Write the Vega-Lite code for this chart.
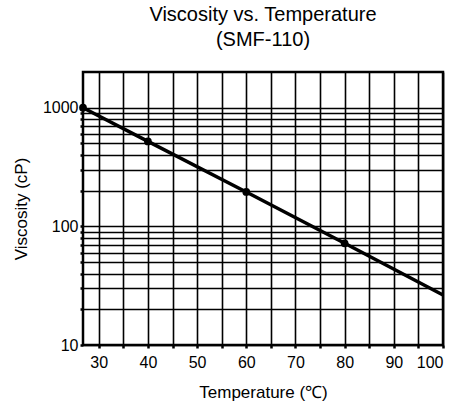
{
  "$schema": "https://vega.github.io/schema/vega-lite/v6.json",
  "autosize": {"type": "none"},
  "width": 360,
  "height": 273,
  "padding": {"left": 83, "top": 72, "right": 27, "bottom": 62},
  "background": "white",
  "title": {
    "text": ["Viscosity vs. Temperature", "(SMF-110)"],
    "font": "Liberation Sans",
    "fontSize": 20,
    "fontWeight": "normal",
    "color": "black",
    "anchor": "middle",
    "lineHeight": 25,
    "offset": 22
  },
  "config": {
    "view": {"stroke": "black", "strokeWidth": 2.5},
    "axis": {
      "labelFont": "Liberation Sans",
      "titleFont": "Liberation Sans",
      "labelFontSize": 16,
      "titleFontSize": 17,
      "titleFontWeight": "normal",
      "labelColor": "black",
      "titleColor": "black",
      "gridColor": "black",
      "gridOpacity": 1,
      "gridWidth": 1.6,
      "tickColor": "black",
      "tickWidth": 2.5,
      "tickSize": 3,
      "domain": false,
      "labelOverlap": false
    }
  },
  "data": {
    "values": [
      {"t": 26.8, "v": 1000},
      {"t": 40, "v": 520},
      {"t": 60, "v": 195},
      {"t": 80, "v": 72},
      {"t": 100, "v": 26.4}
    ]
  },
  "encoding": {
    "x": {
      "field": "t",
      "type": "quantitative",
      "scale": {"domain": [26.8, 100], "nice": false, "zero": false},
      "axis": {
        "title": "Temperature (℃)",
        "values": [30, 35, 40, 45, 50, 55, 60, 65, 70, 75, 80, 85, 90, 95, 100],
        "labelExpr": "datum.value % 10 == 0 ? datum.label : ''",
        "labelPadding": 6,
        "titlePadding": 14
      }
    },
    "y": {
      "field": "v",
      "type": "quantitative",
      "scale": {"type": "log", "domain": [10, 2000], "nice": false},
      "axis": {
        "title": "Viscosity (cP)",
        "format": "d",
        "values": [10, 20, 30, 40, 50, 60, 70, 80, 90, 100, 200, 300, 400, 500, 600, 700, 800, 900, 1000],
        "labelExpr": "(datum.value == 10 || datum.value == 100 || datum.value == 1000) ? datum.label : ''",
        "labelPadding": 2,
        "titlePadding": 12
      }
    }
  },
  "layer": [
    {"mark": {"type": "line", "color": "black", "strokeWidth": 3.5}},
    {
      "transform": [{"filter": "datum.t < 100"}],
      "mark": {"type": "circle", "color": "black", "opacity": 1, "size": 60}
    }
  ]
}
